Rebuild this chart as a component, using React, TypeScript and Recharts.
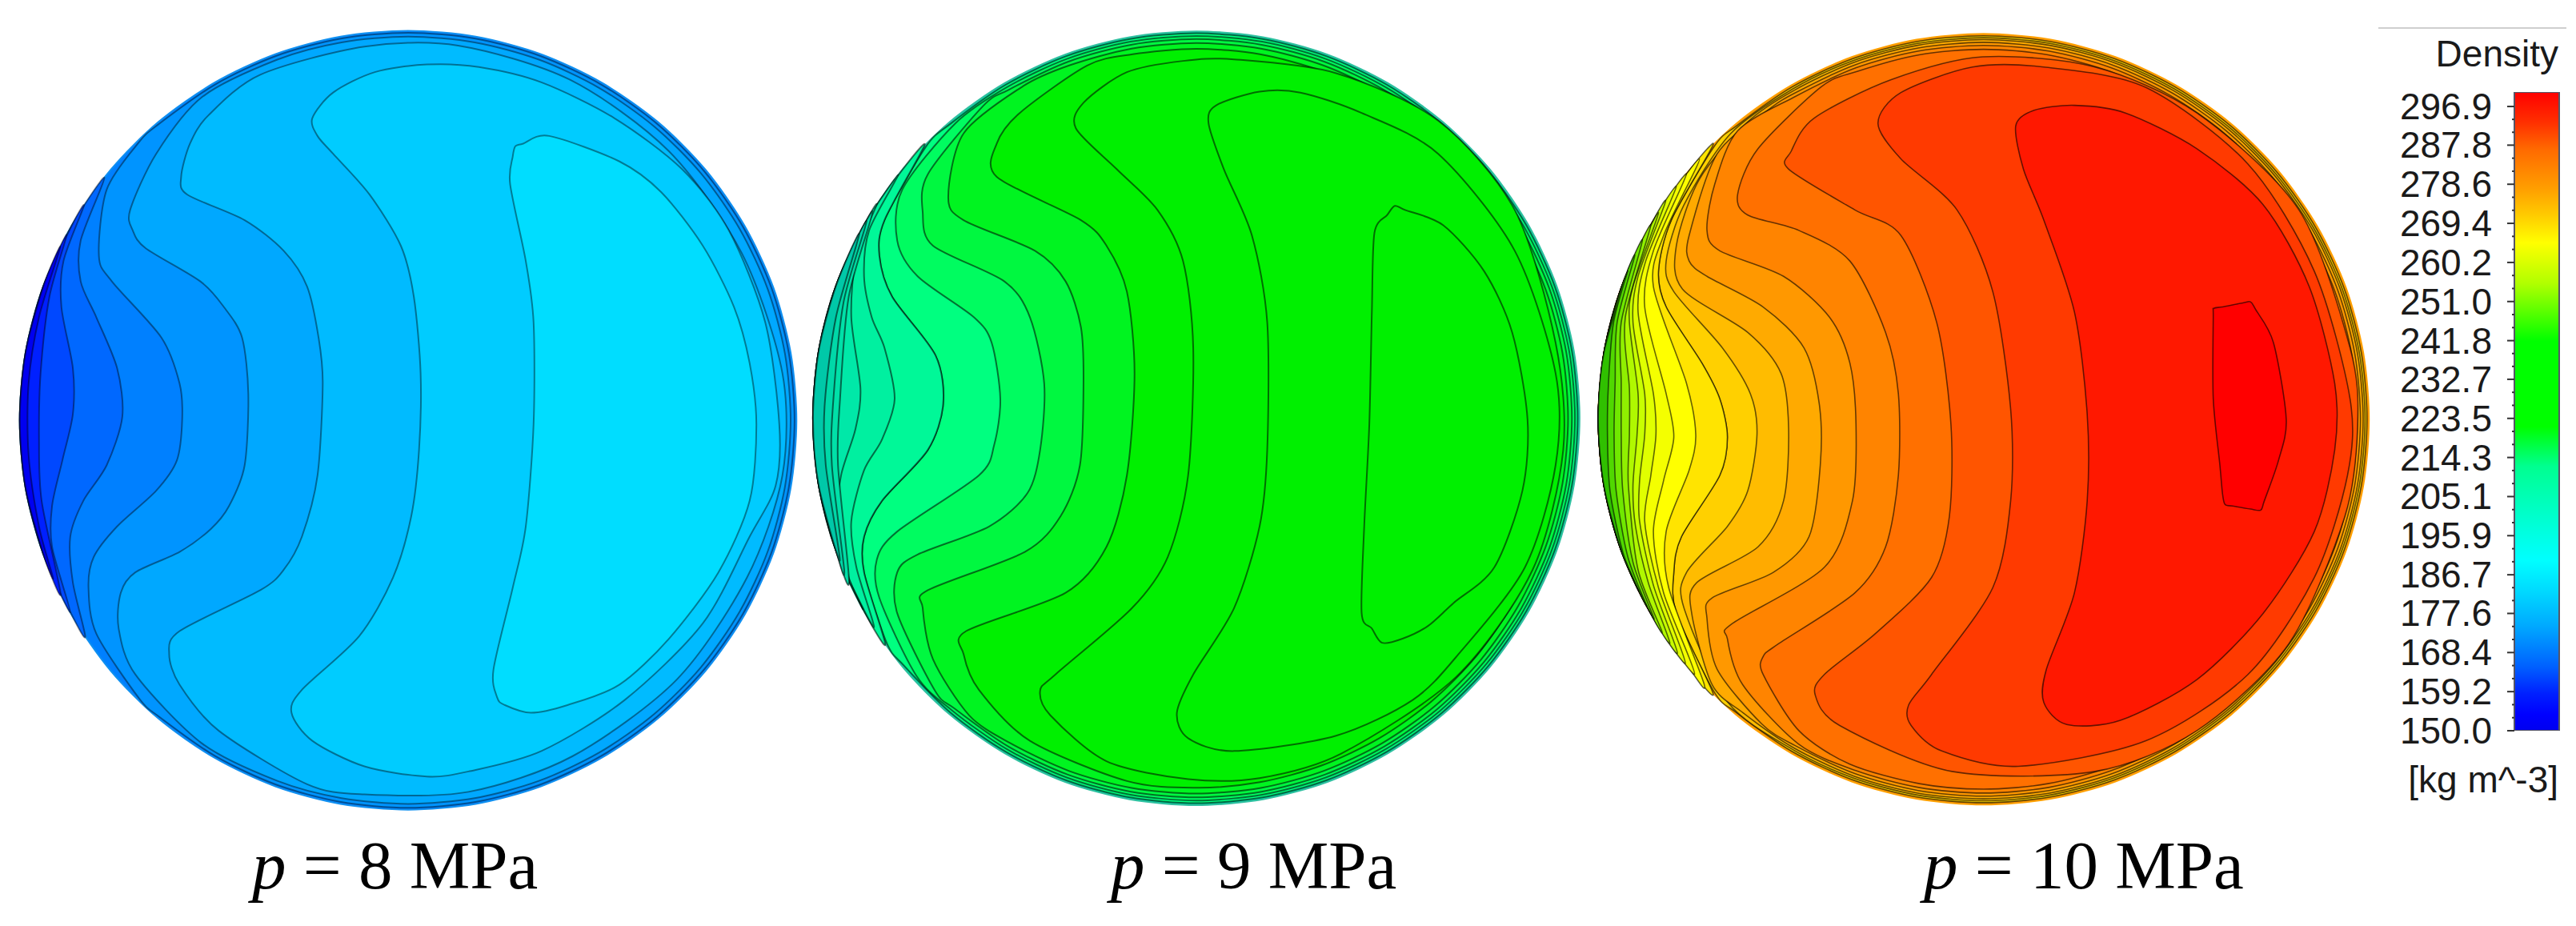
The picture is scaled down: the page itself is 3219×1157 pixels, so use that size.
import React from "react";
import { ScatterChart, Scatter, XAxis, YAxis, BarChart, Bar } from "recharts";

type P = [number, number];
type Band = { pts: P[]; rim?: number; left?: boolean; color: string };

// unit outline of a disc, 10 degree steps (screen orientation, y down)
const RIM: P[] = [[1,0],[.985,.174],[.94,.342],[.866,.5],[.766,.643],[.643,.766],[.5,.866],[.342,.94],[.174,.985],[0,1],[-.174,.985],[-.342,.94],[-.5,.866],[-.643,.766],[-.766,.643],[-.866,.5],[-.94,.342],[-.985,.174],[-1,0],[-.985,-.174],[-.94,-.342],[-.866,-.5],[-.766,-.643],[-.643,-.766],[-.5,-.866],[-.342,-.94],[-.174,-.985],[0,-1],[.174,-.985],[.342,-.94],[.5,-.866],[.643,-.766],[.766,-.643],[.866,-.5],[.94,-.342],[.985,-.174]];

// ---------- p = 8 MPa : contour points ----------
const P1_A0: P[] = [[110,450],[75,590],[55,720],[55,860],[75,1000],[105,1100]];
const P1_A: P[] = [[130,430],[95,550],[78,700],[75,830],[80,950],[122,1130]];
const P1_B: P[] = [[165,375],[122,480],[118,570],[140,690],[140,780],[120,870],[100,960],[100,1040],[140,1165]];
const P1_C: P[] = [[205,320],[155,440],[155,520],[185,590],[225,690],[235,785],[205,880],[160,950],[135,1020],[140,1110],[180,1205]];
const P1_D: P[] = [[265,245],[205,340],[190,470],[215,520],[310,630],[345,720],[350,790],[340,870],[300,930],[225,1000],[180,1060],[170,1120],[185,1210],[265,1340]];
const P1_E: P[] = [[395,170],[300,270],[250,380],[255,420],[280,455],[385,520],[430,570],[465,630],[477,740],[470,880],[440,960],[405,1005],[345,1050],[260,1090],[232,1130],[228,1200],[260,1290],[385,1430]];
const P1_F: P[] = [[500,115],[700,60],[880,58],[1095,125],[1285,265],[1425,465],[1503,700],[1503,900],[1435,1100],[1300,1300],[1100,1450],[900,1520],[700,1525],[590,1505],[420,1400],[345,1310],[325,1250],[345,1205],[500,1125],[545,1085],[580,1020],[610,900],[620,720],[612,630],[590,530],[545,460],[470,400],[360,350],[348,315],[365,250],[400,195]];
const P1_G: P[] = [[600,200],[640,150],[720,110],[820,95],[920,100],[1040,130],[1180,200],[1310,300],[1400,420],[1470,600],[1497,800],[1490,920],[1440,1020],[1350,1190],[1200,1340],[1040,1440],[900,1480],[820,1490],[700,1470],[600,1420],[560,1365],[580,1320],[690,1215],[755,1100],[790,980],[805,850],[808,700],[795,550],[770,450],[710,350],[640,270],[610,235]];
const P1_H: P[] = [[985,275],[990,255],[1005,250],[1055,235],[1190,285],[1270,345],[1350,450],[1410,570],[1440,680],[1453,800],[1440,950],[1380,1090],[1285,1220],[1190,1310],[1090,1350],[1020,1365],[970,1350],[955,1335],[948,1280],[985,1120],[1010,1000],[1025,800],[1025,600],[1010,480],[980,330]];
const P1_BANDS: Band[] = [
  { pts: P1_D, rim: 0.995, color: "#0094ff" },
  { pts: P1_E, rim: 0.985, color: "#00a8ff" },
  { pts: P1_F, color: "#00bbff" },
  { pts: P1_G, color: "#00ccff" },
  { pts: P1_H, color: "#00ddff" },
  { pts: P1_C, left: true, color: "#0068ff" },
  { pts: P1_B, left: true, color: "#0048ff" },
  { pts: P1_A, left: true, color: "#0020ff" },
  { pts: P1_A0, left: true, color: "#0000f0" },
];

// ---------- p = 9 MPa ----------
const P2_L1: P[] = [[120,430],[70,590],[48,760],[50,880],[95,1060]];
const P2_L2: P[] = [[135,405],[85,560],[65,750],[62,880],[105,1080]];
const P2_L3: P[] = [[145,385],[95,550],[78,750],[74,880],[115,1100]];
const P2_L4: P[] = [[150,370],[110,470],[100,590],[118,730],[108,810],[80,900],[70,1000],[95,1100],[125,1160]];
const P2_L5: P[] = [[190,310],[135,420],[125,510],[140,590],[165,650],[185,750],[160,830],[125,890],[100,990],[110,1080],[155,1190]];
const P2_L6: P[] = [[245,255],[165,400],[155,470],[180,550],[265,665],[280,760],[250,850],[160,950],[125,1020],[125,1090],[175,1225]];
const P2_L7: P[] = [[300,205],[200,340],[190,440],[230,510],[340,590],[375,640],[392,750],[380,840],[350,900],[190,1010],[150,1065],[155,1140],[230,1290]];
const P2_L8: P[] = [[350,165],[250,310],[240,385],[260,450],[400,520],[450,590],[478,720],[470,850],[445,935],[370,1000],[230,1055],[190,1090],[190,1170],[265,1320]];
const P2_L9: P[] = [[430,125],[320,230],[290,355],[320,400],[460,460],[520,520],[550,610],[555,720],[548,880],[510,980],[440,1050],[250,1125],[240,1160],[260,1260],[335,1365]];
const P2_L10: P[] = [[560,90],[430,190],[385,250],[385,315],[550,400],[600,450],[640,540],[655,700],[640,900],[600,1040],[520,1130],[325,1205],[320,1250],[350,1320],[450,1420],[640,1500]];
const P2_L11: P[] = [[640,110],[750,88],[850,85],[1050,112],[1250,205],[1400,380],[1480,640],[1495,850],[1435,1085],[1285,1295],[1060,1445],[900,1493],[760,1495],[600,1460],[490,1370],[470,1322],[500,1290],[650,1160],[720,1060],[760,900],[770,650],[750,480],[700,380],[620,300],[540,220],[555,170]];
const P2_L12: P[] = [[800,210],[815,175],[900,148],[980,150],[1100,190],[1250,270],[1400,460],[1480,700],[1480,880],[1420,1080],[1290,1250],[1200,1340],[1050,1410],[850,1440],[760,1415],[738,1365],[770,1290],[850,1160],[900,1000],[915,850],[915,600],[885,430],[830,300]];
const P2_L13: P[] = [[1125,425],[1150,390],[1165,372],[1185,380],[1260,410],[1340,500],[1395,620],[1425,790],[1415,930],[1360,1080],[1280,1150],[1230,1195],[1180,1220],[1140,1228],[1120,1200],[1100,1170],[1105,1000],[1115,800],[1120,580]];
const P2_BANDS: Band[] = [
  { pts: P2_L6, rim: 0.995, color: "#00ff80" },
  { pts: P2_L7, rim: 0.988, color: "#00fc60" },
  { pts: P2_L8, rim: 0.98, color: "#00f840" },
  { pts: P2_L9, rim: 0.97, color: "#00f420" },
  { pts: P2_L10, rim: 0.955, color: "#00f000" },
  { pts: P2_L11, color: "#00f000" },
  { pts: P2_L12, color: "#00f000" },
  { pts: P2_L13, color: "#00f000" },
  { pts: P2_L6, left: true, color: "#00f898" },
  { pts: P2_L5, left: true, color: "#00f0a0" },
  { pts: P2_L4, left: true, color: "#00e8a8" },
  { pts: P2_L3, left: true, color: "#00e0a8" },
  { pts: P2_L2, left: true, color: "#00d8a8" },
  { pts: P2_L1, left: true, color: "#00c8a8" },
];

// ---------- p = 10 MPa ----------
const P3_45: P[] = [[85,500],[57,600],[47,720],[45,820],[50,930],[75,1050],[100,1130]];
const P3_60: P[] = [[100,470],[64,600],[60,720],[58,820],[62,930],[85,1060],[115,1160]];
const P3_72: P[] = [[115,440],[72,600],[72,720],[72,820],[75,930],[95,1070],[130,1185]];
const P3_85: P[] = [[130,410],[80,590],[88,730],[88,820],[86,920],[105,1085],[145,1210]];
const P3_100: P[] = [[145,385],[95,530],[88,600],[105,740],[103,820],[95,920],[100,1000],[125,1110],[165,1230]];
const P3_115: P[] = [[160,365],[105,510],[95,600],[118,740],[118,820],[108,910],[108,990],[135,1115],[180,1250]];
const P3_135: P[] = [[180,335],[120,480],[105,580],[135,740],[140,820],[130,900],[118,990],[145,1120],[195,1270]];
const P3_170: P[] = [[200,310],[135,460],[118,570],[160,740],[175,825],[155,910],[135,1010],[155,1130],[215,1290]];
const P3_215: P[] = [[225,280],[155,430],[135,530],[200,720],[218,820],[205,890],[160,1010],[165,1120],[235,1310]];
const P3_278: P[] = [[250,250],[170,400],[145,500],[160,570],[230,680],[265,750],[280,825],[265,900],[190,1020],[175,1090],[180,1170],[255,1325]];
const P3_335: P[] = [[280,225],[195,370],[160,480],[175,540],[270,650],[325,740],[338,820],[320,930],[280,1000],[200,1090],[195,1160],[280,1345]];
const P3_400: P[] = [[310,195],[225,320],[180,450],[192,535],[320,620],[385,700],[400,810],[390,950],[340,1040],[220,1110],[210,1170],[250,1310],[310,1365]];
const P3_462: P[] = [[345,165],[260,270],[205,430],[205,480],[240,510],[350,570],[430,650],[460,760],[462,880],[440,1020],[370,1090],[250,1140],[240,1180],[260,1280],[345,1390]];
const P3_530: P[] = [[395,135],[300,225],[255,330],[240,420],[265,460],[390,510],[480,590],[520,680],[532,800],[525,950],[470,1080],[290,1190],[280,1220],[310,1310],[420,1425]];
const P3_615: P[] = [[450,110],[340,260],[300,350],[320,390],[420,420],[520,480],[590,620],[615,740],[615,900],[590,1040],[530,1130],[380,1230],[350,1255],[350,1290],[420,1400],[520,1465]];
const P3_718: P[] = [[405,265],[450,200],[600,125],[780,80],[1000,100],[1200,190],[1400,380],[1500,650],[1515,800],[1490,980],[1380,1230],[1200,1400],[1000,1480],[720,1480],[500,1390],[452,1330],[470,1290],[570,1210],[680,1100],[715,980],[718,800],[690,600],[620,430],[530,380],[400,300]];
const P3_835: P[] = [[575,210],[620,150],[760,100],[900,100],[1100,140],[1300,290],[1430,500],[1500,750],[1495,900],[1430,1100],[1300,1290],[1100,1420],[850,1470],[700,1440],[640,1390],[635,1350],[680,1290],[800,1120],[835,950],[835,770],[800,540],[730,380],[620,280]];
const P3_985: P[] = [[845,215],[880,185],[960,175],[1060,190],[1200,260],[1330,370],[1420,530],[1470,720],[1470,850],[1430,1010],[1330,1170],[1200,1300],[1050,1380],[945,1388],[900,1345],[905,1280],[960,1130],[985,950],[985,780],[960,580],[900,400],[860,300]];
const P3_1375: P[] = [[1232,590],[1233,573],[1250,570],[1290,562],[1305,560],[1315,575],[1350,640],[1375,790],[1360,870],[1332,950],[1325,968],[1305,966],[1270,960],[1255,957],[1250,935],[1245,880],[1232,750]];
const P3_BANDS: Band[] = [
  { pts: P3_278, rim: 0.995, color: "#ffd000" },
  { pts: P3_335, rim: 0.99, color: "#ffbc00" },
  { pts: P3_400, rim: 0.985, color: "#ffaa00" },
  { pts: P3_462, rim: 0.978, color: "#ff9800" },
  { pts: P3_530, rim: 0.97, color: "#ff8400" },
  { pts: P3_615, rim: 0.96, color: "#ff7000" },
  { pts: P3_718, color: "#ff5500" },
  { pts: P3_835, color: "#ff3a00" },
  { pts: P3_985, color: "#ff1800" },
  { pts: P3_1375, color: "#ff0000" },
  { pts: P3_278, left: true, color: "#ffe400" },
  { pts: P3_215, left: true, color: "#ffff00" },
  { pts: P3_170, left: true, color: "#f4ff00" },
  { pts: P3_135, left: true, color: "#e0ff00" },
  { pts: P3_115, left: true, color: "#c8ff00" },
  { pts: P3_100, left: true, color: "#b0f800" },
  { pts: P3_85, left: true, color: "#90f000" },
  { pts: P3_72, left: true, color: "#70e800" },
  { pts: P3_60, left: true, color: "#50d800" },
  { pts: P3_45, left: true, color: "#30c000" },
];

// ---------- colour bar ----------
const TICK_VALUES = [150.0, 159.2, 168.4, 177.6, 186.7, 195.9, 205.1, 214.3, 223.5, 232.7, 241.8, 251.0, 260.2, 269.4, 278.6, 287.8, 296.9];
const BAR_ROW = [{ name: "Density", v: [150, 300.3] }];
const BAR_STOPS: [number, string][] = [[0, "#ff0000"], [0.048, "#ff3000"], [0.09, "#ff6a00"], [0.153, "#ffa000"], [0.19, "#ffc800"], [0.236, "#ffff00"], [0.3, "#b0ff00"], [0.39, "#00ff00"], [0.524, "#00ff00"], [0.586, "#00ff90"], [0.69, "#00ffe0"], [0.733, "#00ffff"], [0.783, "#00d8ff"], [0.837, "#00a8ff"], [0.9, "#0060ff"], [0.942, "#0020ff"], [0.975, "#0000ff"], [1, "#0000f0"]];

const PANEL_LABELS = ["8", "9", "10"];

// closed Catmull-Rom curve: keeps the contours passing through the read points
const smoothClosed = (context: any) => {
  let pts: P[] = [];
  return {
    areaStart() {},
    areaEnd() {},
    lineStart() { pts = []; },
    point(x: number, y: number) { pts.push([+x, +y]); },
    lineEnd() {
      const n0 = pts.length;
      if (n0 > 1 && pts[0][0] === pts[n0 - 1][0] && pts[0][1] === pts[n0 - 1][1]) pts.pop();
      const n = pts.length;
      if (!n) return;
      context.moveTo(pts[0][0], pts[0][1]);
      for (let i = 0; i < n; i++) {
        const a = pts[(i - 1 + n) % n], b = pts[i], c = pts[(i + 1) % n], d = pts[(i + 2) % n];
        context.bezierCurveTo(b[0] + (c[0] - a[0]) / 7, b[1] + (c[1] - a[1]) / 7, c[0] - (d[0] - b[0]) / 7, c[1] - (d[1] - b[1]) / 7, c[0], c[1]);
      }
      context.closePath();
    },
  };
};

function closeShape(b: Band, c: P, r: P): { x: number; y: number }[] {
  if (b.rim === undefined && !b.left) {
    return b.pts.map(([x, y]) => ({ x, y }));
  }
  const s = b.rim ?? 1;
  const ang = (p: P) => Math.atan2((p[1] - c[1]) / r[1], (p[0] - c[0]) / r[0]);
  const onRing = (p: P): { x: number; y: number } => {
    const a = ang(p);
    return { x: c[0] + Math.cos(a) * r[0] * s, y: c[1] + Math.sin(a) * r[1] * s };
  };
  const last = b.pts.length - 1;
  const pts = b.pts.map(([x, y], i) => (i === 0 || i === last ? onRing([x, y]) : { x, y }));
  const end = (ang(b.pts[last]) * 180) / Math.PI;
  const start = (ang(b.pts[0]) * 180) / Math.PI;
  const push = (d: number) => {
    const u = RIM[(((d % 360) + 360) % 360) / 10];
    pts.push({ x: c[0] + u[0] * r[0] * s, y: c[1] + u[1] * r[1] * s });
  };
  if (b.left) {
    for (let d = Math.ceil((end + 3) / 10) * 10; d <= Math.floor((start + 360 - 3) / 10) * 10; d += 10) push(d);
  } else {
    for (let d = Math.floor((end - 3) / 10) * 10; d >= Math.ceil((start + 3) / 10) * 10; d -= 10) push(d);
  }
  return pts;
}

function Panel(props: { left: number; w: number; h: number; domX: number; domY: number; c: P; r: P; base: string; edge: string; lineWidth: number; lineOpacity: number; bands: Band[] }) {
  const { left, w, h, domX, domY, c, r, base, edge, lineWidth, lineOpacity, bands } = props;
  const disc = RIM.map((u) => ({ x: c[0] + u[0] * r[0], y: c[1] + u[1] * r[1] }));
  return (
    <div style={{ position: "absolute", left, top: 20 }}>
      <ScatterChart width={w} height={h} margin={{ top: 0, right: 0, bottom: 0, left: 0 }}>
        <XAxis type="number" dataKey="x" domain={[0, domX]} hide allowDataOverflow />
        <YAxis type="number" dataKey="y" domain={[0, domY]} reversed hide allowDataOverflow />
        <Scatter data={disc} isAnimationActive={false} shape={() => <g />} lineType="joint" lineJointType={smoothClosed as any} line={{ stroke: edge, strokeWidth: 2, fill: base }} />
        {bands.map((b, i) => (
          <Scatter key={i} data={closeShape(b, c, r)} isAnimationActive={false} shape={() => <g />} lineType="joint" lineJointType={smoothClosed as any} line={{ stroke: "#000", strokeOpacity: lineOpacity, strokeWidth: lineWidth, fill: b.color }} />
        ))}
      </ScatterChart>
    </div>
  );
}

const ColorTick = (p: any) => {
  const v = p.payload.value;
  const major = TICK_VALUES.indexOf(v) >= 0;
  const len = major ? 9 : 3;
  return (
    <g>
      <line x1={p.x - len} x2={p.x} y1={p.y} y2={p.y} stroke="#333" strokeWidth={2} />
      {major ? (
        <text x={p.x - 28} y={p.y + 16} textAnchor="end" fontFamily="Liberation Sans" fontSize={46} fill="#1a1a1a">{v.toFixed(1)}</text>
      ) : null}
    </g>
  );
};

const AXIS_TICKS = TICK_VALUES.flatMap((v, i) => {
  if (i === TICK_VALUES.length - 1) return [v];
  const n = TICK_VALUES[i + 1];
  return [v, v + (n - v) / 3, v + (2 * (n - v)) / 3];
});

const caption = (i: number, left: number) => (
  <div key={i} style={{ position: "absolute", left, top: 1032, fontFamily: "Liberation Serif", fontSize: 85, whiteSpace: "pre", color: "#000" }}>
    <i>p</i>{` = ${PANEL_LABELS[i]} MPa`}
  </div>
);

export default function App() {
  return (
    <div style={{ position: "absolute", left: 0, top: 0, width: 3219, height: 1157, background: "#fff", overflow: "hidden" }}>
      <Panel left={0} w={1020} h={1000} domX={1568} domY={1568} c={[784, 792]} r={[746, 763]} base="#0080ff" edge="#1090f0" lineWidth={2} lineOpacity={0.42} bands={P1_BANDS} />
      <Panel left={1000} w={1000} h={1000} domX={1568} domY={1568} c={[776, 788]} r={[751, 758]} base="#00d8a0" edge="#30c0a0" lineWidth={2} lineOpacity={0.55} bands={P2_BANDS} />
      <Panel left={1980} w={1000} h={1000} domX={1568} domY={1568} c={[782, 790]} r={[755, 755]} base="#ee9000" edge="#ffa000" lineWidth={1.6} lineOpacity={0.6} bands={P3_BANDS} />
      <div style={{ position: "absolute", left: 2972, top: 34, width: 235, height: 2, background: "#cfcfcf" }} />
      <div style={{ position: "absolute", right: 22, top: 40, fontFamily: "Liberation Sans", fontSize: 46, color: "#1a1a1a" }}>Density</div>
      <div style={{ position: "absolute", left: 2990, top: 100 }}>
        <BarChart width={220} height={850} data={BAR_ROW} margin={{ top: 15, right: 12, bottom: 37, left: 0 }} barCategoryGap={0}>
          <defs>
            <linearGradient id="densityScale" x1="0" y1="0" x2="0" y2="1">
              {BAR_STOPS.map(([o, col]) => <stop key={o} offset={o} stopColor={col} />)}
            </linearGradient>
          </defs>
          <XAxis dataKey="name" hide />
          <YAxis type="number" width={152} domain={[150, 300.3]} ticks={AXIS_TICKS} interval={0} tickLine={false} axisLine={false} tickSize={0} tickMargin={0} tick={ColorTick} allowDataOverflow />
          <Bar dataKey="v" fill="url(#densityScale)" stroke="#556" strokeWidth={2} isAnimationActive={false} />
        </BarChart>
      </div>
      <div style={{ position: "absolute", right: 22, top: 947, fontFamily: "Liberation Sans", fontSize: 46, color: "#1a1a1a" }}>[kg m^-3]</div>
      {caption(0, 315)}
      {caption(1, 1388)}
      {caption(2, 2404)}
    </div>
  );
}
